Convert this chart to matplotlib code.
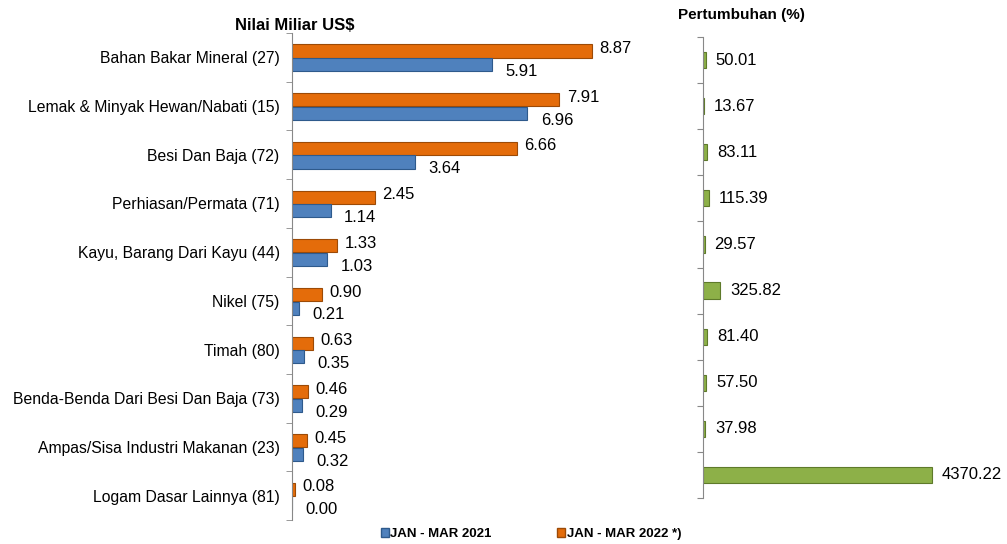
#!/usr/bin/env python3
"""Export value (Jan-Mar 2021 vs 2022) and growth by commodity group."""

import matplotlib.pyplot as plt
from matplotlib.patches import Patch

CATEGORIES = [
    "Bahan Bakar Mineral (27)",
    "Lemak & Minyak Hewan/Nabati (15)",
    "Besi Dan Baja (72)",
    "Perhiasan/Permata (71)",
    "Kayu, Barang Dari Kayu (44)",
    "Nikel (75)",
    "Timah (80)",
    "Benda-Benda Dari Besi Dan Baja (73)",
    "Ampas/Sisa Industri Makanan (23)",
    "Logam Dasar Lainnya (81)",
]
VAL_2021 = [5.91, 6.96, 3.64, 1.14, 1.03, 0.21, 0.35, 0.29, 0.32, 0.00]
VAL_2022 = [8.87, 7.91, 6.66, 2.45, 1.33, 0.90, 0.63, 0.46, 0.45, 0.08]
GROWTH = [50.01, 13.67, 83.11, 115.39, 29.57, 325.82, 81.40, 57.50, 37.98, 4370.22]

ORANGE = "#E46C0A"
BLUE = "#4F81BD"
GREEN = "#8DB048"

plt.rcParams["font.family"] = ["Liberation Sans", "DejaVu Sans"]

W, H = 1007, 544
fig = plt.figure(figsize=(W / 100, H / 100), dpi=100)

# left panel: values
ax = fig.add_axes([292 / W, 1 - 520 / H, 340 / W, 487 / H])
y = list(range(len(CATEGORIES)))
h = 0.27
y_or = [v - 0.13 for v in y]
y_bl = [v + 0.15 for v in y]
ax.barh(y_or, VAL_2022, height=h, color=ORANGE, edgecolor="#9C4A06", linewidth=0.8)
ax.barh(y_bl, VAL_2021, height=h, color=BLUE, edgecolor="#2E5A8C", linewidth=0.8)
for yy, v in zip(y_or, VAL_2022):
    ax.text(v + 0.22, yy - 0.05, f"{v:.2f}", va="center", ha="left", fontsize=12)
for yy, v in zip(y_bl, VAL_2021):
    ax.text(v + 0.4, yy + 0.14, f"{v:.2f}", va="center", ha="left", fontsize=12)
ax.set_xlim(0, 340 / 33.8)
ax.set_ylim(len(CATEGORIES) - 0.5, -0.5)
ax.set_yticks(y)
ax.set_yticklabels(CATEGORIES, fontsize=11.3)
ax.set_yticks([i - 0.5 for i in range(len(CATEGORIES) + 1)], minor=True)
ax.tick_params(axis="y", which="major", length=0, pad=9)
ax.tick_params(axis="y", which="minor", length=4, color="#888888", direction="out")
ax.set_xticks([])
for side in ("top", "right", "bottom"):
    ax.spines[side].set_visible(False)
ax.spines["left"].set_color("#888888")
fig.text(235 / W, 1 - 25 / H, "Nilai Miliar US$", fontsize=12, fontweight="bold", va="center")

# right panel: growth
ax2 = fig.add_axes([703 / W, 1 - 498 / H, 262 / W, 461 / H])
ax2.barh(y, GROWTH, height=0.35, color=GREEN, edgecolor="#5E7A2A", linewidth=0.8)
for yy, v in zip(y, GROWTH):
    ax2.text(v + 190, yy, f"{v:.2f}", va="center", ha="left", fontsize=12)
ax2.set_xlim(0, 5000)
ax2.set_ylim(len(CATEGORIES) - 0.5, -0.5)
ax2.set_yticks([i - 0.5 for i in range(len(CATEGORIES) + 1)])
ax2.set_yticklabels([])
ax2.tick_params(axis="y", length=4, color="#888888", direction="out")
ax2.set_xticks([])
for side in ("top", "right", "bottom"):
    ax2.spines[side].set_visible(False)
ax2.spines["left"].set_color("#888888")
fig.text(678 / W, 1 - 15 / H, "Pertumbuhan (%)", fontsize=11, fontweight="bold", va="center")

# legend
handles = [Patch(facecolor=BLUE, edgecolor="#2E5A8C"), Patch(facecolor=ORANGE, edgecolor="#9C4A06")]
fig.legend(
    handles,
    ["JAN - MAR 2021", "JAN - MAR 2022 *)"],
    loc="center",
    bbox_to_anchor=(531 / W, 1 - 534 / H),
    ncol=2,
    frameon=False,
    prop={"weight": "bold", "size": 9.5},
    handlelength=0.6,
    handleheight=0.6,
    handletextpad=0.1,
    columnspacing=5.0,
)

fig.savefig("out.png", dpi=100)
